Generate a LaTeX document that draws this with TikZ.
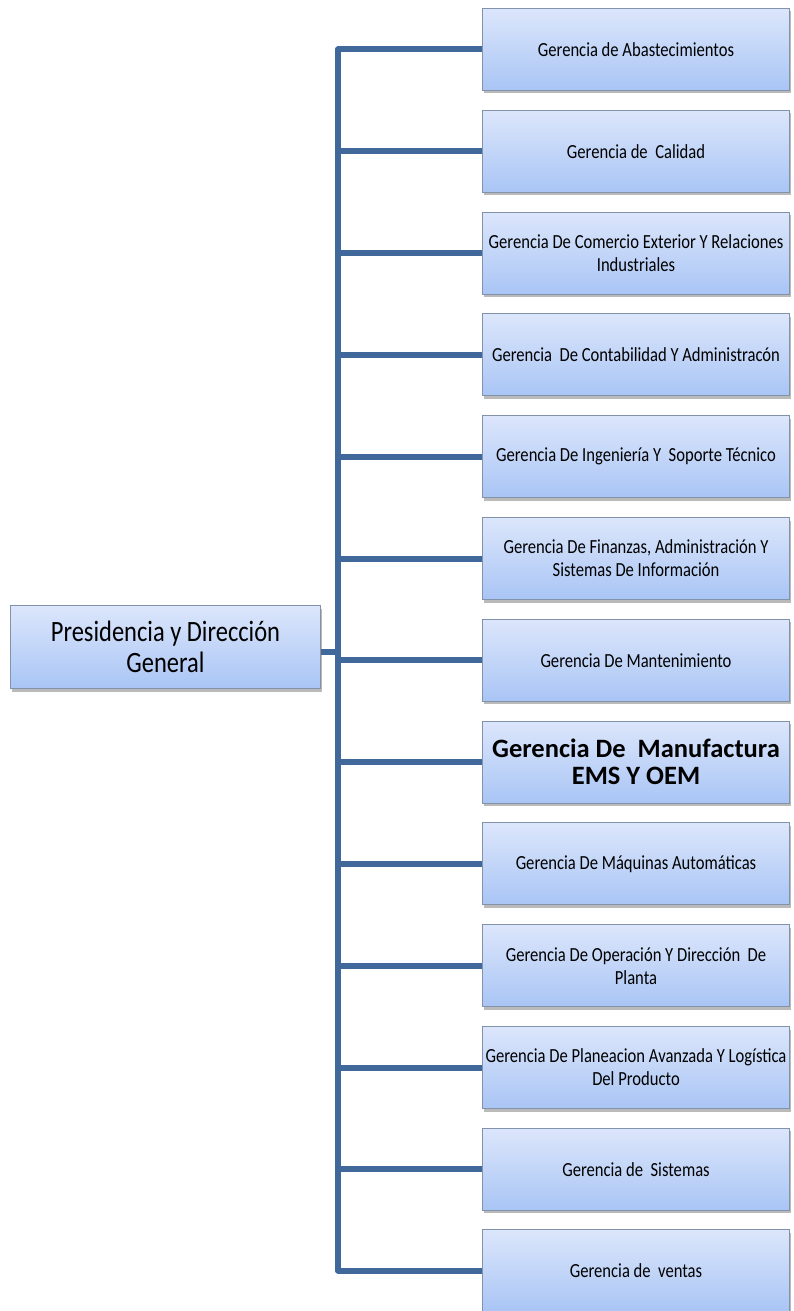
\documentclass[tikz,border=0pt]{standalone}
\usepackage{fontspec}
\setmainfont{Carlito}
\newfontfamily\boxfont{Carlito}[FakeStretch=0.83]
\usetikzlibrary{shadows,backgrounds}
\definecolor{linecol}{HTML}{41689A}
\definecolor{boxtop}{HTML}{DCE6FB}
\definecolor{boxbot}{HTML}{A9C5F5}
\definecolor{boxline}{HTML}{8192AA}
\tikzset{
  orgbox/.style={draw=boxline, line width=1pt, top color=boxtop, bottom color=boxbot,
    minimum width=307pt, minimum height=82pt, inner sep=1pt, align=center,
    anchor=north west, font=\boxfont\fontsize{20}{23}\selectfont,
    drop shadow={shadow xshift=1.5pt, shadow yshift=-3pt, opacity=0.45, fill=black!60}},
  rootbox/.style={orgbox, minimum width=310pt, minimum height=83pt,
    font=\boxfont\fontsize{29.5}{31}\selectfont},
  bigbox/.style={orgbox, font=\bfseries\fontsize{26.5}{27}\selectfont},
  conn/.style={draw=linecol, line width=6pt},
}
\begin{document}
\begin{tikzpicture}[x=1pt,y=-1pt]
\useasboundingbox (0,0) rectangle (793,1311);
\node[rootbox] (root) at (10,605) {Presidencia y Dirección\\General};
\node[orgbox] (b1)  at (482,8)      {Gerencia de Abastecimientos};
\node[orgbox] (b2)  at (482,109.8)  {Gerencia de\ \ Calidad};
\node[orgbox] (b3)  at (482,211.6)  {Gerencia De Comercio Exterior Y Relaciones\\Industriales};
\node[orgbox] (b4)  at (482,313.4)  {Gerencia\ \ De Contabilidad Y Administracón};
\node[orgbox] (b5)  at (482,415.2)  {Gerencia De Ingeniería Y\ \ Soporte Técnico};
\node[orgbox] (b6)  at (482,517)    {Gerencia De Finanzas, Administración Y\\Sistemas De Información};
\node[orgbox] (b7)  at (482,618.8)  {Gerencia De Mantenimiento};
\node[bigbox] (b8)  at (482,720.6)  {Gerencia De\ \ Manufactura\\EMS Y OEM};
\node[orgbox] (b9)  at (482,822.4)  {Gerencia De Máquinas Automáticas};
\node[orgbox] (b10) at (482,924.2)  {Gerencia De Operación Y Dirección\ \ De\\Planta};
\node[orgbox] (b11) at (482,1026)   {Gerencia De Planeacion Avanzada Y Logística\\Del Producto};
\node[orgbox] (b12) at (482,1127.8) {Gerencia de\ \ Sistemas};
\node[orgbox] (b13) at (482,1229)   {Gerencia de\ \ ventas};
\coordinate (trunk) at (338,0);
\begin{scope}[on background layer]
\draw[conn, line join=round] (b1.west) -- (b1.west -| trunk) -- (b13.west -| trunk) -- (b13.west);
\foreach \i in {2,...,12} {\draw[conn] (b\i.west) -- (b\i.west -| trunk);}
\draw[conn] ([yshift=-5pt]root.east) -- ([yshift=-5pt]root.east -| trunk);
\end{scope}
\end{tikzpicture}
\end{document}
